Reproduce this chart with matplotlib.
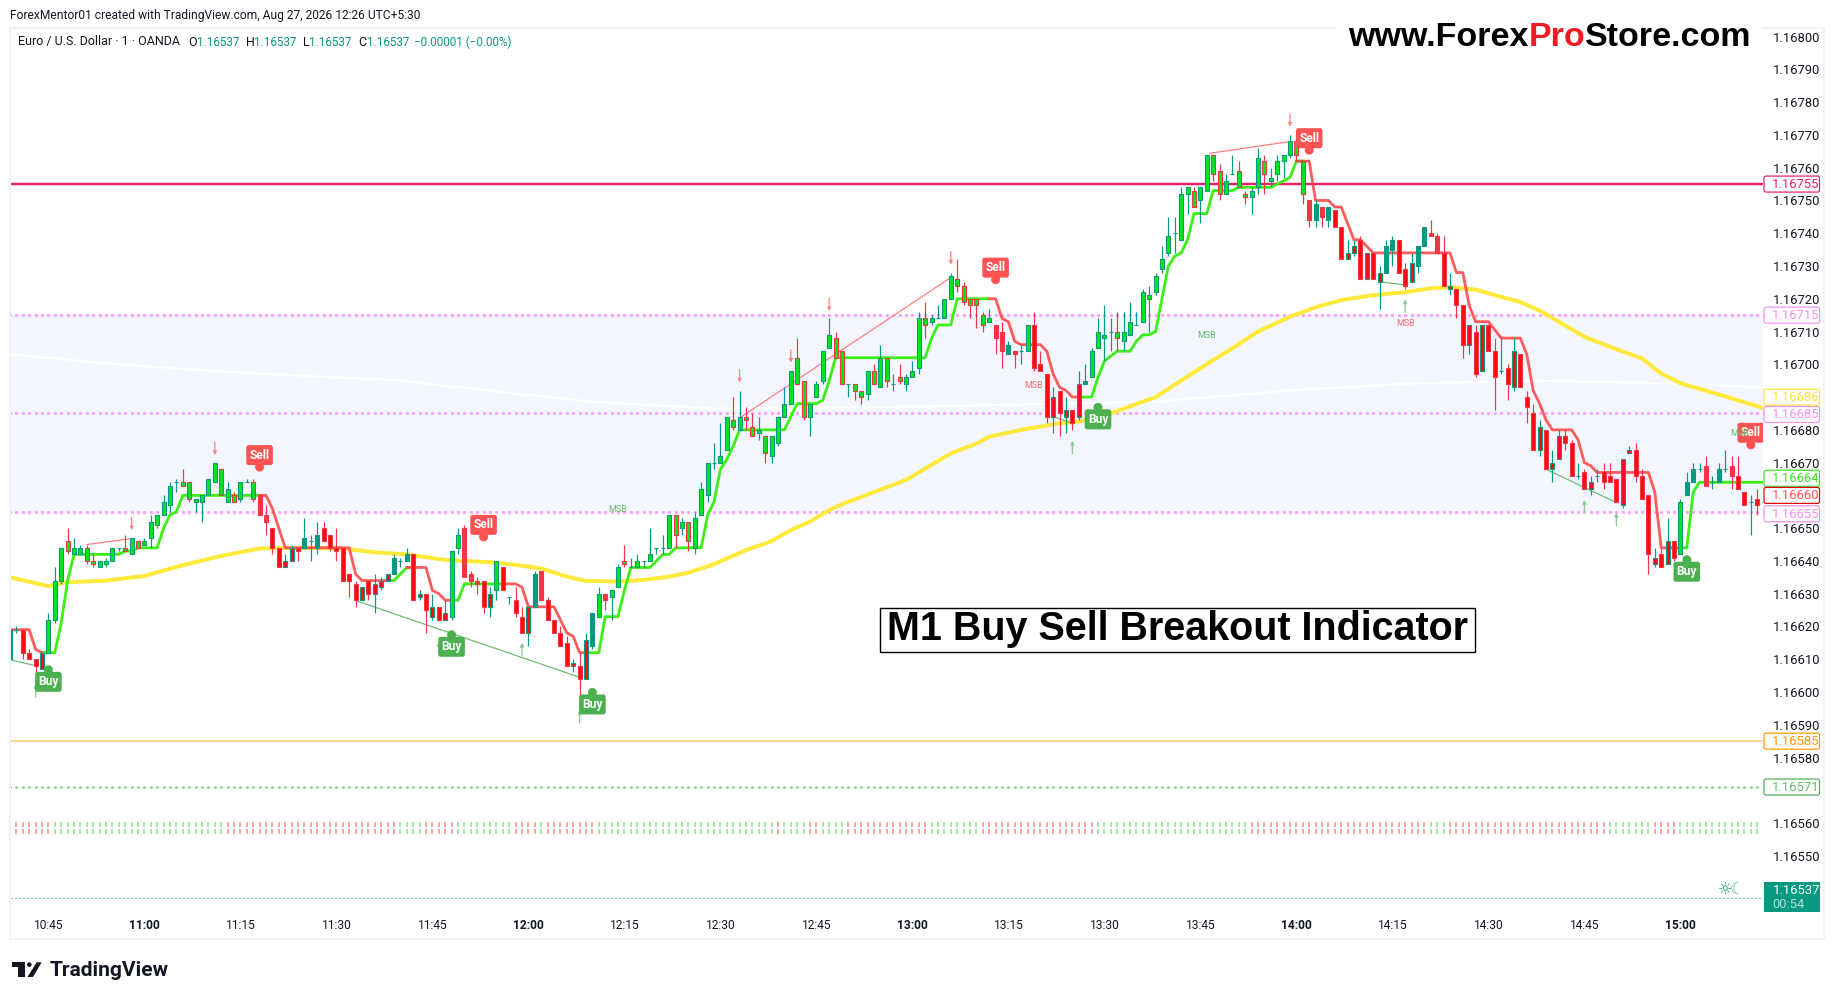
import matplotlib
matplotlib.use("Agg")
import matplotlib.pyplot as plt
import numpy as np
from matplotlib.patches import FancyBboxPatch, Circle, Polygon, Rectangle
from matplotlib.transforms import Affine2D, ScaledTranslation

W, H = 1835, 1000
TEAL = "#089981"
RED = "#f23645"
LIME = "#00e61e"
PURE_RED = "#ff0a10"
INK = "#131722"

# all prices below are points above 1.16000 (659 -> 1.16659), one bar per minute from 10:39
opens = [610,619,619,612,610,607,612,622,634,646,
         642,642,644,640,638,639,640,644,644,642,
         646,645,647,651,654,657,664,664,664,658,
         658,660,664,668,658,660,659,664,664,660,
         654,650,644,638,640,644,644,646,644,650,
         648,644,644,636,633,628,634,630,632,634,
         636,640,640,642,629,630,623,626,622,623,
         644,650,636,634,634,626,631,638,629,628,
         623,618,626,637,628,622,618,615,608,608,
         604,614,623,630,629,632,640,638,638,640,
         640,644,644,644,654,650,652,644,654,660,
         670,670,674,683,680,684,681,679,678,672,
         676,684,688,702,695,684,690,695,705,708,
         704,694,694,692,691,698,693,702,694,696,
         694,696,699,714,713,714,714,720,726,724,
         720,720,715,713,712,710,703,704,704,704,
         712,700,697,684,692,684,686,684,694,696,
         705,708,710,710,707,709,712,713,720,722,
         729,734,740,738,752,753,750,753,764,759,
         752,758,759,752,751,754,762,756,758,762,
         764,768,762,750,744,748,744,747,742,732,
         734,738,726,734,725,728,735,738,729,725,
         730,736,740,739,734,723,723,718,706,710,
         698,712,704,698,699,693,703,690,685,674,
         680,668,671,678,676,666,667,662,666,667,
         666,665,657,673,674,666,660,639,642,639,
         646,642,660,664,668,669,664,664,668,669,
         666,661,658,659,658]
highs = [620,620,619,613,610,612,624,638,644,650,
         647,645,645,642,640,641,644,644,648,647,
         646,647,654,654,660,664,665,668,664,659,
         660,665,670,668,664,661,664,665,665,660,
         657,650,644,642,645,644,653,648,652,652,
         648,650,644,636,634,632,634,636,635,636,
         642,641,644,642,631,630,630,626,628,643,
         650,651,637,635,634,632,640,638,629,632,
         626,626,637,637,629,622,620,617,610,612,
         618,624,632,630,631,639,645,641,642,640,
         650,644,648,654,654,653,652,655,664,670,
         676,682,684,690,692,687,685,684,678,678,
         684,693,698,708,695,688,695,704,714,710,
         704,694,694,692,698,700,706,702,697,700,
         697,701,716,719,715,718,720,728,732,725,
         720,720,716,717,712,713,707,704,706,712,
         716,704,697,693,692,690,686,698,700,705,
         714,718,714,716,716,719,716,723,724,728,
         736,745,745,754,754,754,754,764,764,761,
         758,764,762,753,754,766,764,760,764,764,
         770,768,762,750,750,748,748,747,742,738,
         738,739,734,734,730,738,739,738,731,734,
         736,742,744,740,739,728,723,718,712,712,
         712,712,708,708,700,708,703,692,688,683,
         680,674,680,680,677,670,668,666,668,670,
         670,665,671,675,676,668,660,644,644,653,
         646,659,667,670,670,672,666,670,674,672,
         672,661,660,662,660]
lows = [610,618,610,610,606,607,612,621,633,642,
        642,642,639,638,638,638,640,643,643,642,
        644,645,644,650,654,655,661,663,658,655,
        652,660,664,660,658,658,658,664,658,654,
        648,642,638,638,640,640,644,640,642,646,
        643,640,634,629,626,628,628,624,631,634,
        636,638,640,628,628,618,622,622,622,622,
        642,635,632,630,624,623,628,631,627,623,
        618,614,626,628,622,618,614,608,606,599,
        604,613,623,625,622,632,638,638,638,638,
        640,642,642,644,644,648,643,642,654,658,
        668,670,674,680,680,680,678,677,670,670,
        675,684,688,694,683,678,690,694,705,702,
        694,690,689,688,689,694,693,693,692,694,
        692,696,697,708,712,714,714,720,722,718,
        714,711,710,713,703,699,703,699,700,704,
        698,698,682,679,678,679,680,683,694,696,
        705,701,704,704,704,709,712,713,710,721,
        728,733,734,738,746,748,743,753,756,750,
        752,758,754,749,746,752,752,754,756,757,
        763,762,749,742,742,742,742,742,732,732,
        733,726,726,726,717,728,730,728,723,725,
        728,736,739,734,724,721,714,702,703,696,
        698,704,686,697,689,692,693,682,674,672,
        668,664,671,674,666,665,662,660,664,662,
        664,658,656,673,664,659,636,638,638,639,
        640,642,660,664,667,663,662,664,667,662,
        662,657,648,654,656]
closes = [619,619,612,610,608,612,622,634,644,643,
          644,644,640,639,640,640,644,644,643,647,
          644,646,652,654,658,663,664,663,659,659,
          660,665,670,660,662,658,664,664,659,654,
          652,644,638,640,644,643,647,646,648,646,
          644,643,634,634,628,632,630,633,634,636,
          641,640,642,628,630,625,626,622,624,643,
          648,635,634,633,626,630,640,631,629,624,
          618,626,636,628,622,618,614,608,609,604,
          616,624,630,628,631,638,639,638,640,640,
          642,644,644,654,648,652,646,653,662,670,
          670,672,684,681,684,683,678,680,673,678,
          684,688,698,694,684,688,694,704,709,702,
          694,694,692,690,698,694,702,695,694,695,
          696,698,714,712,714,714,720,727,724,719,
          718,718,712,714,708,704,706,703,704,712,
          699,698,684,690,685,686,682,694,695,704,
          710,709,710,708,710,713,712,722,721,727,
          732,739,740,752,754,748,754,764,758,752,
          756,758,754,751,753,763,758,757,762,764,
          768,764,752,744,749,745,748,742,732,734,
          736,726,734,726,728,736,738,728,724,731,
          736,742,739,734,724,724,718,706,712,697,
          712,704,696,698,694,704,693,687,674,681,
          668,670,678,676,666,666,662,664,666,664,
          664,658,671,674,666,659,642,641,638,646,
          641,658,664,668,668,663,664,668,668,666,
          662,657,658,657,658]
# body colour painted by the indicator: L lime, R red, N plain candle
bar_paint = ("NNRRRRLLLL" "LLLLLLLLLL" "LLLLLLLLLL" "LLLLLLLLLN"
             "NRRRRRNNNR" "RRRRRRRRRR" "NNNRRRRRRL" "LNNNRRLRNR"
             "RRNNRRRRRR" "RNLNLLLNLN" "LNNLLLLLLL" "NLLLLLLLLL"
             "LLLLLLLLLL" "LNLLLLLLNL" "LLLLLNLLLL" "LLLLNNNNNL"
             "RRRRRRRRNL" "LLNLLLNLLL" "LLNLLLLLLL" "LNLLLLLLLL"
             "LLLNNNNRRR" "RRRRRNNRRR" "NNNNRRRRRR" "RRRNRRRRRR"
             "RRRRRNRRNR" "RRRRRRRRRR" "RLNNNNNNNN" "RRNRN")

green_trend = [
    ([5,7,8,9,10,17,18,19,20,23,24,25,26,27,39],
     [612,612,621,634,642,642,643,643,644,644,650,654,655,660,660]),
    ([59,60,62,63], [634,634,638,638]),
    ([69,70,71,77], [628,628,633,633]),
    ([90,92,93,95,96,97,100,102,103,104,108,109,110,111,112,113,114,121,123,126,127,128,129,143,144,145,147,148,153],
     [612,612,623,623,631,638,638,642,642,644,644,654,658,668,671,675,680,680,688,688,689,695,702,702,708,712,712,720,720]),
    ([167,169,170,171,173,175,176,177,178,179,180,181,182,183,184,185,187,188,191,192,197,200,201,202],
     [690,690,696,701,704,704,707,709,709,710,720,730,733,734,738,746,746,753,753,754,754,757,762,762]),
    ([261,262,263,264,274], [644,644,661,664,664]),
]
red_trend = [
    ([0,3,4,5], [619,619,613,612]),
    ([39,40,41,42,43,53,54,55,59], [660,660,656,650,644,644,636,634,634]),
    ([62,65,66,67,68,69], [638,638,631,630,628,628]),
    ([77,79,80,81,85,86,87,88,89,90], [633,633,632,626,626,622,618,617,612,612]),
    ([153,154,155,156,157,158,161,162,163,164,165,166,167],
     [720,720,714,713,707,706,706,704,697,693,692,690,690]),
    ([201,203,204,206,207,208,210,211,213,225,226,227,228,229,231,233,236,237,238,239,240,241,244,245,246,247,248,256,257,258,261],
     [762,762,750,750,748,748,738,738,734,734,728,728,718,713,713,708,708,703,692,688,683,680,680,677,670,669,667,667,661,644,644]),
]
ema_k = [0,6,9,15,21,27,33,39,45,52,57,62,68,75,79,83,87,90,95,99,103,106,110,115,119,122,125,128,130,135,140,147,151,153,158,164,167,172,179,188,191,195,200,204,208,213,218,222,225,229,233,236,239,242,246,251,255,258,261,267,270,274]
ema_v = [635,632.3,633.5,634,635.4,638.7,641.5,643.8,644,643.8,642.6,642,640.3,639.6,638.8,637.7,635.2,633.9,633.7,634.2,635.2,636.4,639,643.3,646,649.4,652,655.5,657.3,661,664.7,672.8,675.8,677.9,680,682,682.5,685,690,701.3,704.9,710,714.5,717.4,719.6,721.1,722,723.2,723.5,722.8,720.6,719,716.4,713,708.4,704.6,701.8,697.2,694.2,690.8,689,686.6]
sma_k = [0,20,40,60,70,81,91,110,140,179,200,217,238,259,274]
sma_v = [703,699.5,697,695.2,693,690.6,688.6,686.5,687,688.6,692,694,695,694.2,693]

level_zone = [655, 715]
dotted_levels = [715, 685, 655]
pink_level = 755
orange_level = 585
green_dots_level = 571
last_price = 537

# thin swing connectors: (k0, v0, k1, v1)
sell_swings = [(12,645,19,646.8), (114.3,684,147,726.5), (187.5,764.4,200.1,768)]
buy_swings = [(0.3,609.7,3.6,608.2), (54,627.9,89,604.5), (163,684,166.1,682), (214.1,725.2,218,724.2), (240.3,667.7,251,657.8)]

down_arrows = [(19,649.4), (32,672.3), (114,694.4), (122,700.5), (128,716.2), (147,730.4), (200,772.5)]
up_arrows = [(4,602.4), (67,615.3), (80,615), (89,594.5), (166,676.7), (218,719.8), (246,658.6), (251,654.7)]

buy_signals = [(6,603.1), (69,613.8), (91,596.2), (170,683.2), (262,636.7)]
sell_signals = [(39,672.3), (74,651), (154,729.5), (203,769), (272,679.1)]
msb_green = [(95,655.7), (187,708.7), (270.2,679)]
msb_red = [(160,693.4), (218,712.5)]

# red runs of the two-row strip at the bottom, anything else in 1..273 is green
strip_red_runs = [(1,6),(34,60),(65,69),(79,82),(84,91),(120,120),(125,126),(131,143),
                  (152,169),(194,221),(225,249),(257,260)]

price_ticks = [800,790,780,770,760,750,740,730,720,710,700,680,670,650,640,630,620,610,600,590,580,560,550]
time_ticks = [6,21,36,51,66,81,96,111,126,141,156,171,186,201,216,231,246,261]
time_labels = ["10:45","11:00","11:15","11:30","11:45","12:00","12:15","12:30","12:45",
               "13:00","13:15","13:30","13:45","14:00","14:15","14:30","14:45","15:00"]
# price tag: points, text colour, border colour, nudge in pixels so tags do not overlap
price_tags = [(755,"#e91e63","#e91e63",0), (715,"#f48ff4","#f48ff4",0), (686,"#fbe33a","#fbe33a",13),
              (685,"#f48ff4","#f48ff4",-1), (664,"#3fe02a","#3fe02a",4), (660,"#ff5252","#e00000",0),
              (655,"#f48ff4","#f48ff4",-2), (585,"#ff9800","#ff9800",0), (571,"#66bb6a","#4caf50",0)]


def to_price(v):
    return 1.16 + np.asarray(v, dtype=float) / 1e5


def bar_x(px):
    return (px - 10) / 6.4


def pt_y(px):
    return 800 - (px - 36.6) / 3.277


def px_size(n):
    return n * 72 / 100


plt.rcParams["font.family"] = ["Roboto", "DejaVu Sans"]
fig = plt.figure(figsize=(W / 100, H / 100), dpi=100, facecolor="white")
page = Affine2D().scale(1, -1).translate(0, H)

ax = fig.add_axes([11 / W, 1 - 912 / H, (1763 - 11) / W, (912 - 28) / H])
ax.set_xlim(bar_x(11), bar_x(1763))
ax.set_ylim(to_price(pt_y(912)), to_price(pt_y(28)))
for s in ax.spines.values():
    s.set_visible(False)

# outer frame, broken behind the site name
frame = "#f0f3f6"
for x0, y0, x1, y1 in [(9, 27, 1336, 29), (1762, 27, 1825, 29), (9, 27, 11, 940), (1823, 27, 1825, 940), (9, 938, 1825, 940)]:
    fig.add_artist(Rectangle((x0, y0), x1 - x0, y1 - y0, transform=page, fc=frame, ec="none"))

ax.axhspan(to_price(level_zone[0]), to_price(level_zone[1]), fc="#f3f6fe", ec="none", zorder=0)
ax.plot(sma_k, to_price(sma_v), color="white", lw=px_size(2), zorder=1)

all_bars = np.arange(len(opens))
for lv in dotted_levels:
    ax.plot(all_bars, to_price(np.full(len(all_bars), lv)), ls="none", marker="o", ms=px_size(3.2),
            mew=0, color="#fb9ffb", zorder=1.5)
ax.plot(all_bars[:-1], to_price(np.full(len(all_bars) - 1, green_dots_level)), ls="none", marker="o",
        ms=px_size(2.8), mew=0, color="#84d28d", zorder=1.5)
ax.axhline(to_price(pink_level), color="#e91e63", lw=px_size(2.4), zorder=1.5)
ax.axhline(to_price(orange_level), color="#ffc46b", lw=px_size(1.5), zorder=1.5)
ax.axhline(to_price(last_price), color=TEAL, lw=px_size(1), ls=(0, (1, 3)), zorder=1.5)

# bottom strip
strip_k = all_bars[1:274]
strip_red = np.zeros(len(strip_k), dtype=bool)
for a, b in strip_red_runs:
    strip_red |= (strip_k >= a) & (strip_k <= b)
strip_colors = ["#ff8d8d" if r else "#8ee88e" for r in strip_red]
ax.vlines(strip_k, to_price(pt_y(827.5)), to_price(pt_y(822)), colors=strip_colors, lw=px_size(1.6), zorder=1.5)
ax.vlines(strip_k, to_price(pt_y(833.5)), to_price(pt_y(828.5)), colors=strip_colors, lw=px_size(1.6), zorder=1.5)

ax.plot(ema_k, to_price(ema_v), color="#ffe93b", lw=px_size(4), zorder=2, solid_capstyle="round")
for ks, vs in green_trend:
    ax.plot(ks, to_price(vs), color="#3bf014", lw=px_size(2.8), zorder=2.2)
for ks, vs in red_trend:
    ax.plot(ks, to_price(vs), color="#ff4b4b", lw=px_size(2.8), alpha=0.9, zorder=2.2)

for k0, v0, k1, v1 in sell_swings:
    ax.plot([k0, k1], to_price([v0, v1]), color="#ff7a7a", lw=px_size(1.2), zorder=2.3)
for k0, v0, k1, v1 in buy_swings:
    ax.plot([k0, k1], to_price([v0, v1]), color="#6cbb70", lw=px_size(1.2), zorder=2.3)

# candles
o, h, l, c = [to_price(a) for a in (opens, highs, lows, closes)]
rising = c >= o
edge = np.where(rising, TEAL, RED)
paint = {"L": LIME, "R": PURE_RED}
fill = [paint.get(p, edge[i]) for i, p in enumerate(bar_paint)]
ax.vlines(all_bars, l, h, colors=list(edge), lw=px_size(1.2), zorder=3)
ax.bar(all_bars, np.abs(c - o), bottom=np.minimum(o, c), width=0.62, color=fill, edgecolor=list(edge),
       linewidth=px_size(1.1), zorder=3.1)

for k, v in down_arrows:
    ax.annotate("", xy=(k, to_price(v)), xytext=(0, px_size(13)), textcoords="offset points",
                arrowprops=dict(arrowstyle="-|>", color="#ff8585", lw=px_size(1.3), mutation_scale=5, shrinkA=0, shrinkB=0),
                zorder=4)
for k, v in up_arrows:
    ax.annotate("", xy=(k, to_price(v)), xytext=(0, -px_size(13)), textcoords="offset points",
                arrowprops=dict(arrowstyle="-|>", color="#8cc795", lw=px_size(1.3), mutation_scale=5, shrinkA=0, shrinkB=0),
                zorder=4)


def signal(k, v, text, color, nub_y):
    at = Affine2D() + ScaledTranslation(k, to_price(v), ax.transData)
    ax.add_patch(Circle((0, nub_y), 4.5, transform=at, fc=color, ec="none", zorder=5))
    ax.add_patch(FancyBboxPatch((-13.3, -10), 26.6, 20, boxstyle="round,pad=0,rounding_size=2.5",
                                transform=at, fc=color, ec="none", zorder=5))
    ax.text(0, 0, text, transform=at, color="white", fontsize=px_size(12), fontweight="bold",
            ha="center", va="center", zorder=5.1, clip_on=True)


for k, v in sell_signals:
    signal(k, v, "Sell", "#ff5252", -12)
for k, v in msb_green:
    ax.text(k, to_price(v), "MSB", color="#66bb6a", fontsize=px_size(9), ha="center", va="center", zorder=5.2)
for k, v in msb_red:
    ax.text(k, to_price(v), "MSB", color="#ff6b6b", fontsize=px_size(9), ha="center", va="center", zorder=5.2)
for k, v in buy_signals:
    signal(k, v, "Buy", "#4caf50", 12)

# price scale
ax.yaxis.tick_right()
ax.set_yticks(to_price(price_ticks))
ax.set_yticklabels([f"{p:.5f}" for p in to_price(price_ticks)], fontsize=px_size(13), color=INK)
ax.tick_params(axis="y", length=0, pad=px_size(9.5))
ax.set_xticks(time_ticks)
ax.set_xticklabels(time_labels, fontsize=px_size(12), color=INK)
ax.tick_params(axis="x", length=0, pad=px_size(7))
for lab in ax.get_xticklabels():
    if lab.get_text().endswith(":00"):
        lab.set_fontweight("bold")

x_right = ax.get_xlim()[1]
for v, tc, bc, nudge in price_tags:
    at = Affine2D().translate(0, nudge) + ScaledTranslation(x_right, to_price(v), ax.transData)
    box = FancyBboxPatch((1, -8), 55.5, 16, boxstyle="round,pad=0,rounding_size=2", transform=at,
                         fc="white", ec=bc, lw=px_size(1.2), zorder=6)
    ax.add_patch(box)
    box.set_clip_on(False)
    ax.text(9, -0.5, f"{to_price(v):.5f}", transform=at, color=tc, fontsize=px_size(13), ha="left", va="center",
            zorder=6.1, clip_on=False)

fig.add_artist(Rectangle((1764, 882), 56, 30, transform=page, fc=TEAL, ec="none", zorder=6))
fig.text(1772.5, 890.5, f"{to_price(last_price):.5f}", transform=page, color="white", fontsize=px_size(13), va="center", zorder=7)
fig.text(1772.5, 904.5, "00:54", transform=page, color="#b5e3d8", fontsize=px_size(13), va="center", zorder=7)
fig.text(1725, 889, "\u263c", transform=page, color=TEAL, fontsize=px_size(16), family="DejaVu Sans", ha="center", va="center")
fig.text(1737, 889, "\u263e", transform=page, color=TEAL, fontsize=px_size(16), family="DejaVu Sans", ha="center", va="center", alpha=0.7)

# header lines
fig.text(10.5, 15, "ForexMentor01 created with TradingView.com, Aug 27, 2026 12:26 UTC+5:30", transform=page,
         color=INK, fontsize=px_size(12), va="center")
fig.text(18, 42, "Euro / U.S. Dollar \u00b7 1 \u00b7 OANDA", transform=page, color=INK, fontsize=px_size(12.5), va="center")
for x, s in [(188, "O"), (246, "H"), (303, "L"), (358.6, "C")]:
    fig.text(x, 42, s, transform=page, color=INK, fontsize=px_size(12.5), va="center")
for x in [197, 254, 309, 367]:
    fig.text(x, 42, "1.16537", transform=page, color=TEAL, fontsize=px_size(11.6), va="center")
fig.text(414, 42, "\u22120.00001 (\u22120.00%)", transform=page, color=TEAL, fontsize=px_size(11.6), va="center")

# site name, three colours on one baseline
rend = fig.canvas.get_renderer()
site_x = 1348
for part, col in [("www.Forex", "black"), ("Pro", "#ed1c24"), ("Store.com", "black")]:
    t = fig.text(site_x, 46.5, part, transform=page, color=col, family="Liberation Sans", fontweight="bold",
                 fontsize=px_size(34), va="baseline", zorder=7)
    site_x = t.get_window_extent(rend).x1

# caption box
fig.text(1177.5, 629.5, "M1 Buy Sell Breakout Indicator", transform=page, color="black", family="Liberation Sans",
         fontweight="bold", fontsize=px_size(39.5), ha="center", va="center", zorder=7)
fig.add_artist(Rectangle((880, 608), 595, 43.5, transform=page, fc="none", ec="black", lw=px_size(1.4), zorder=7))

# TradingView mark and name
mark = "#131722"
fig.add_artist(Polygon([(12, 962.3), (25, 962.3), (25, 977), (18, 977), (18, 966.8), (12, 966.8)], transform=page, fc=mark, ec="none"))
fig.add_artist(Circle((29.3, 964.6), 2.3, transform=page, fc=mark, ec="none"))
fig.add_artist(Polygon([(36.7, 962.3), (41.7, 962.3), (33, 977), (27.5, 977)], transform=page, fc=mark, ec="none"))
fig.text(49.5, 970, "TradingView", transform=page, color=mark, fontsize=px_size(21), fontweight="bold", va="center")

fig.savefig("out.png", dpi=100, facecolor="white")
print("Saved to out.png")
